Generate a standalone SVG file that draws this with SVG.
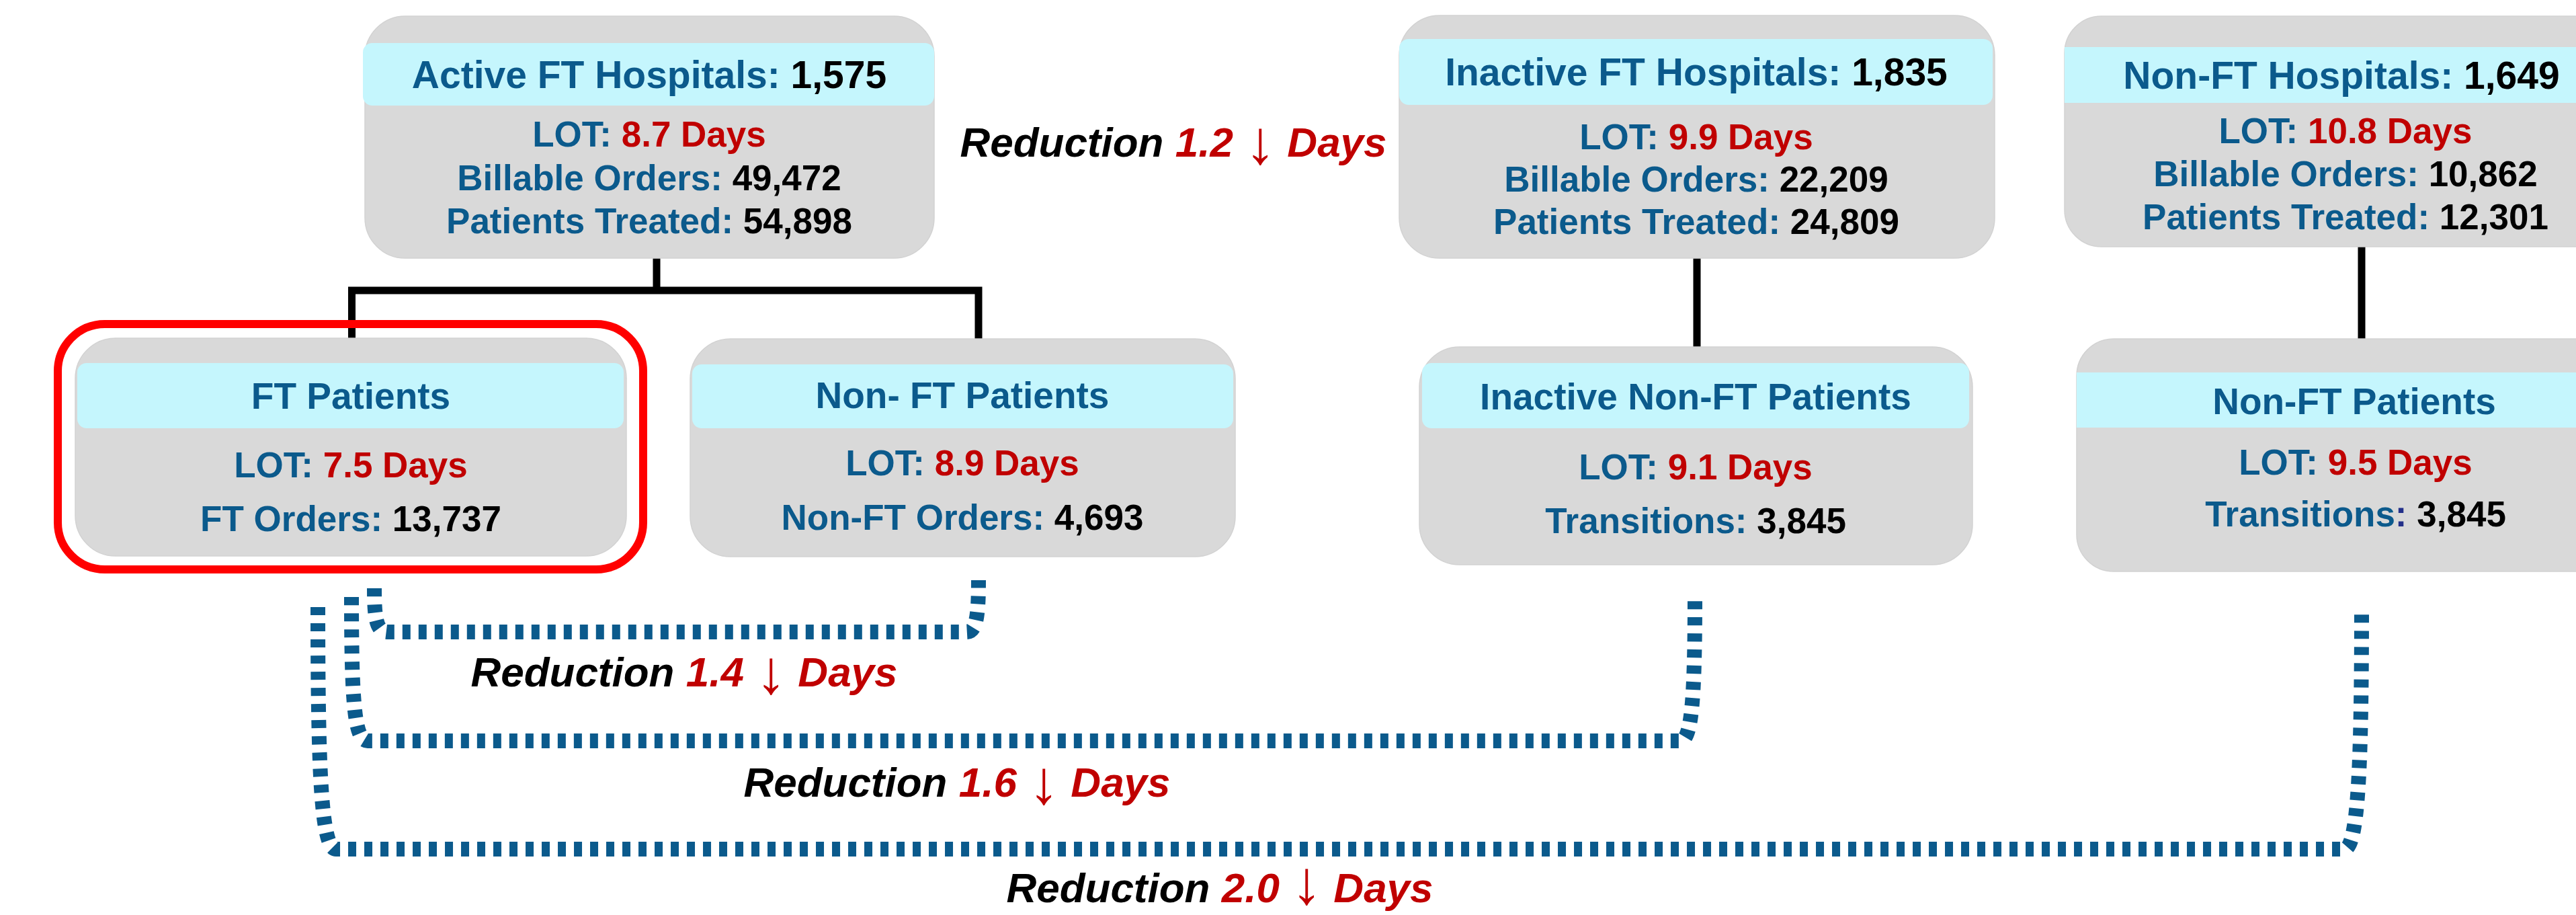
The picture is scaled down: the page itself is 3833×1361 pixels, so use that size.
<svg xmlns="http://www.w3.org/2000/svg" width="3833" height="1361" viewBox="0 0 3833 1361">
<style>
.box{fill:#D9D9D9;stroke:#D2D2D2;stroke-width:1.5}
.band{fill:#C5F6FD}
.t{font-family:"Liberation Sans",Arial,sans-serif;font-weight:bold;text-anchor:middle}
.h{font-size:57px}
.s{font-size:55px}
.b{font-size:53px}
.bl{fill:#0B5A8C}
.k{fill:#000000}
.r{fill:#C00000}
.lab{font-family:"Liberation Sans",Arial,sans-serif;font-weight:bold;font-style:italic;font-size:62px;text-anchor:middle;fill:#000000}
.ar{font-family:"Liberation Sans",Arial,sans-serif;font-weight:normal;font-style:normal;font-size:92px}
.tree{fill:none;stroke:#000000;stroke-width:11}
.dot{fill:none;stroke:#0B5A8C;stroke-width:22;stroke-dasharray:12 12}
</style>
<rect width="3833" height="1361" fill="#FFFFFF"/>

<g id="connectors">
  <path class="tree" d="M977 384 V432"/>
  <path class="tree" d="M523.5 503 V432 H1456 V504"/>
  <path class="tree" d="M2525 384 V516"/>
  <path class="tree" d="M3514 367 V504"/>
  <path class="dot" d="M557 875 C557 920 560 940 577 940 H1438 C1452 940 1456 920 1456 863"/>
  <path class="dot" d="M523 888 C523 1050 528 1102 547 1102 H2500 C2516 1102 2522 1050 2522 888"/>
  <path class="dot" d="M473 903 C473 1150 478 1263 500 1263 H3488 C3508 1263 3514 1150 3514 907"/>
</g>

<g id="active-ft-hospitals">
  <rect class="box" x="543" y="24" width="847" height="360" rx="60"/>
  <rect class="band" x="540" y="64" width="850" height="93" rx="14"/>
  <text class="t h" x="966" y="131"><tspan class="bl">Active FT Hospitals: </tspan><tspan class="k">1,575</tspan></text>
  <text class="t b" x="966" y="218"><tspan class="bl">LOT: </tspan><tspan class="r">8.7 Days</tspan></text>
  <text class="t b" x="966" y="283"><tspan class="bl">Billable Orders: </tspan><tspan class="k">49,472</tspan></text>
  <text class="t b" x="966" y="347"><tspan class="bl">Patients Treated: </tspan><tspan class="k">54,898</tspan></text>
</g>

<g id="ft-patients">
  <rect x="86" y="482" width="871" height="365" rx="70" fill="none" stroke="#FF0000" stroke-width="12"/>
  <rect class="box" x="112" y="503" width="820" height="324" rx="60"/>
  <rect class="band" x="115" y="540" width="813" height="97" rx="14"/>
  <text class="t s" x="522" y="608"><tspan class="bl">FT Patients</tspan></text>
  <text class="t b" x="522" y="710"><tspan class="bl">LOT: </tspan><tspan class="r">7.5 Days</tspan></text>
  <text class="t b" x="522" y="790"><tspan class="bl">FT Orders: </tspan><tspan class="k">13,737</tspan></text>
</g>

<g id="non-ft-patients-active">
  <rect class="box" x="1027" y="504" width="811" height="324" rx="60"/>
  <rect class="band" x="1030" y="542" width="805" height="95" rx="14"/>
  <text class="t s" x="1432" y="607"><tspan class="bl">Non- FT Patients</tspan></text>
  <text class="t b" x="1432" y="707"><tspan class="bl">LOT: </tspan><tspan class="r">8.9 Days</tspan></text>
  <text class="t b" x="1432" y="788"><tspan class="bl">Non-FT Orders: </tspan><tspan class="k">4,693</tspan></text>
</g>

<g id="inactive-ft-hospitals">
  <rect class="box" x="2082" y="23" width="886" height="361" rx="60"/>
  <rect class="band" x="2082" y="58" width="883" height="98" rx="14"/>
  <text class="t h" x="2524" y="127"><tspan class="bl">Inactive FT Hospitals: </tspan><tspan class="k">1,835</tspan></text>
  <text class="t b" x="2524" y="222"><tspan class="bl">LOT: </tspan><tspan class="r">9.9 Days</tspan></text>
  <text class="t b" x="2524" y="285"><tspan class="bl">Billable Orders: </tspan><tspan class="k">22,209</tspan></text>
  <text class="t b" x="2524" y="348"><tspan class="bl">Patients Treated: </tspan><tspan class="k">24,809</tspan></text>
</g>

<g id="inactive-non-ft-patients">
  <rect class="box" x="2112" y="516" width="823" height="324" rx="60"/>
  <rect class="band" x="2116" y="540" width="814" height="97" rx="14"/>
  <text class="t s" x="2523" y="609"><tspan class="bl">Inactive Non-FT Patients</tspan></text>
  <text class="t b" x="2523" y="713"><tspan class="bl">LOT: </tspan><tspan class="r">9.1 Days</tspan></text>
  <text class="t b" x="2523" y="793"><tspan class="bl">Transitions: </tspan><tspan class="k">3,845</tspan></text>
</g>

<g id="non-ft-hospitals">
  <rect class="box" x="3072" y="24" width="900" height="343" rx="55"/>
  <rect class="band" x="3072" y="70" width="800" height="83"/>
  <text class="t h" x="3484" y="132"><tspan class="bl">Non-FT Hospitals: </tspan><tspan class="k">1,649</tspan></text>
  <text class="t b" x="3490" y="213"><tspan class="bl">LOT: </tspan><tspan class="r">10.8 Days</tspan></text>
  <text class="t b" x="3490" y="277"><tspan class="bl">Billable Orders: </tspan><tspan class="k">10,862</tspan></text>
  <text class="t b" x="3490" y="341"><tspan class="bl">Patients Treated: </tspan><tspan class="k">12,301</tspan></text>
</g>

<g id="non-ft-patients">
  <rect class="box" x="3090" y="504" width="900" height="346" rx="55"/>
  <rect class="band" x="3090" y="554" width="800" height="82"/>
  <text class="t s" x="3503" y="616"><tspan class="bl">Non-FT Patients</tspan></text>
  <text class="t b" x="3505" y="706"><tspan class="bl">LOT: </tspan><tspan class="r">9.5 Days</tspan></text>
  <text class="t b" x="3505" y="783"><tspan class="bl">Transitions</tspan><tspan fill="#23308A">: </tspan><tspan class="k">3,845</tspan></text>
</g>

<g id="labels">
  <text class="lab" x="1746" y="233">Reduction <tspan class="r">1.2 <tspan class="ar" dy="10">↓</tspan><tspan dy="-10"> Days</tspan></tspan></text>
  <text class="lab" x="1018" y="1021">Reduction <tspan class="r">1.4 <tspan class="ar" dy="10">↓</tspan><tspan dy="-10"> Days</tspan></tspan></text>
  <text class="lab" x="1424" y="1185">Reduction <tspan class="r">1.6 <tspan class="ar" dy="10">↓</tspan><tspan dy="-10"> Days</tspan></tspan></text>
  <text class="lab" x="1815" y="1342">Reduction <tspan class="r">2.0 <tspan class="ar" dy="2">↓</tspan><tspan dy="-2"> Days</tspan></tspan></text>
</g>
</svg>
